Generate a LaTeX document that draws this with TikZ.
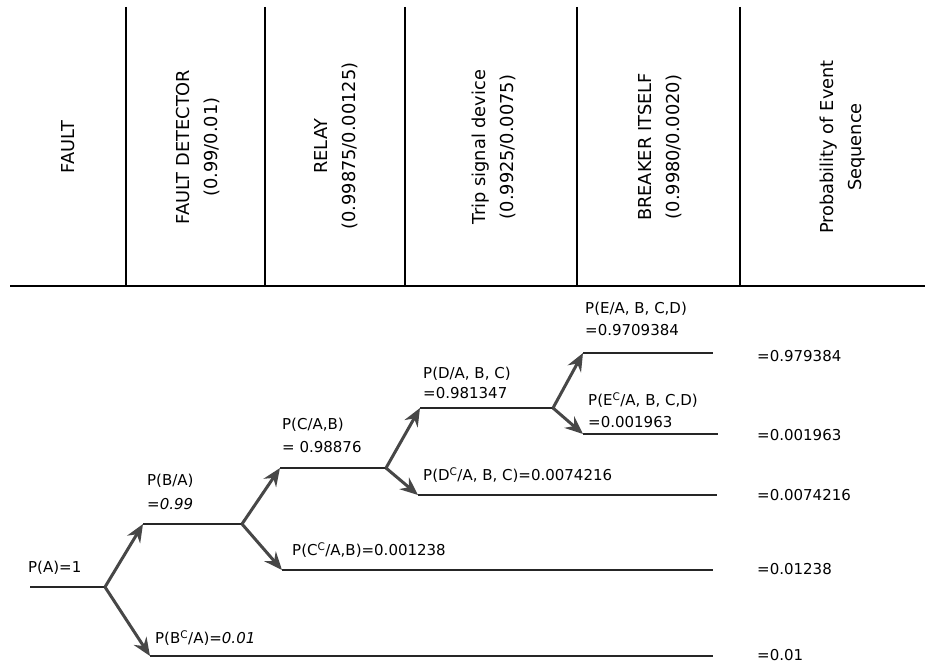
\documentclass[tikz,border=0pt]{standalone}
\usepackage{fontspec}
\setmainfont{DejaVu Sans}
\usetikzlibrary{arrows.meta}
\begin{document}
\begin{tikzpicture}[x=1pt,y=-1pt,
  hline/.style={line width=1.6pt, draw=black!85},
  sepline/.style={line width=1.1pt},
  branch/.style={line width=3pt, draw=black!72, -{Stealth[length=18pt,width=15pt,inset=6pt]}},
  hdr/.style={rotate=90, align=center, inner sep=0pt, font=\fontsize{17.8}{28}\selectfont},
  lab/.style={anchor=west, align=left, inner sep=0pt},
  res/.style={anchor=west, inner sep=0pt}]
\useasboundingbox (0,0) rectangle (925,666);
\fontsize{15}{22}\selectfont
% header
\node[hdr] (hfault) at (68,147) {FAULT};
\node[hdr] (hdet) at (198,147) {FAULT DETECTOR\\(0.99/0.01)};
\node[hdr] (hrelay) at (336,146) {RELAY\\(0.99875/0.00125)};
\node[hdr] (htrip) at (494,147) {Trip signal device\\(0.9925/0.0075)};
\node[hdr] (hbrk) at (660,147) {BREAKER ITSELF\\(0.9980/0.0020)};
\node[hdr] (hprob) at (843,147) {Probability of Event\\Sequence};
\foreach \xx in {126,265,405,577,740}
  \draw[sepline] (\xx,7) -- (\xx,286);
\draw[sepline] (10,286) -- (925,286);
% tree coordinates
\coordinate (a0) at (30,587);   \coordinate (a1) at (105,587);
\coordinate (b0) at (143,524);  \coordinate (b1) at (242,524);
\coordinate (bc0) at (150,656); \coordinate (bc1) at (713,656);
\coordinate (c0) at (280,468);  \coordinate (c1) at (386,468);
\coordinate (cc0) at (282,570); \coordinate (cc1) at (713,570);
\coordinate (d0) at (420,408);  \coordinate (d1) at (553,408);
\coordinate (dc0) at (418,495); \coordinate (dc1) at (717,495);
\coordinate (e0) at (583,353);  \coordinate (e1) at (713,353);
\coordinate (ec0) at (583,434); \coordinate (ec1) at (718,434);
% horizontal lines
\draw[hline] (a0) -- (a1);
\draw[hline] (b0) -- (b1);
\draw[hline] (bc0) -- (bc1);
\draw[hline] (c0) -- (c1);
\draw[hline] (cc0) -- (cc1);
\draw[hline] (d0) -- (d1);
\draw[hline] (dc0) -- (dc1);
\draw[hline] (e0) -- (e1);
\draw[hline] (ec0) -- (ec1);
% branches
\draw[branch] (a1) -- (b0);
\draw[branch] (a1) -- (bc0);
\draw[branch] (b1) -- (c0);
\draw[branch] (b1) -- (cc0);
\draw[branch] (c1) -- (d0);
\draw[branch] (c1) -- (dc0);
\draw[branch] (d1) -- (e0);
\draw[branch] (d1) -- (ec0);
% labels
\node[lab] (la) at (28,568) {P(A)=1};
\node[lab] (lb) at (147,492) {P(B/A)\\[2pt]\itshape =0.99};
\node[lab] (lbc) at (155,638) {P(B\textsuperscript{C}/A)=\textit{0.01}};
\node[lab] (lc) at (282,435) {P(C/A,B)\\[1pt]= 0.98876};
\node[lab] (lcc) at (292,550) {P(C\textsuperscript{C}/A,B)=0.001238};
\node[lab] (ld) at (423,383) {P(D/A, B, C)\\[-2pt]=0.981347};
\node[lab] (ldc) at (423,475) {P(D\textsuperscript{C}/A, B, C)=0.0074216};
\node[lab] (le) at (585,319) {P(E/A, B, C,D)\\=0.9709384};
\node[lab] (lec) at (588,410) {P(E\textsuperscript{C}/A, B, C,D)\\=0.001963};
% results
\node[res] (r1) at (757,356) {=0.979384};
\node[res] (r2) at (757,435) {=0.001963};
\node[res] (r3) at (757,495) {=0.0074216};
\node[res] (r4) at (757,569) {=0.01238};
\node[res] (r5) at (757,655) {=0.01};
\end{tikzpicture}
\end{document}
